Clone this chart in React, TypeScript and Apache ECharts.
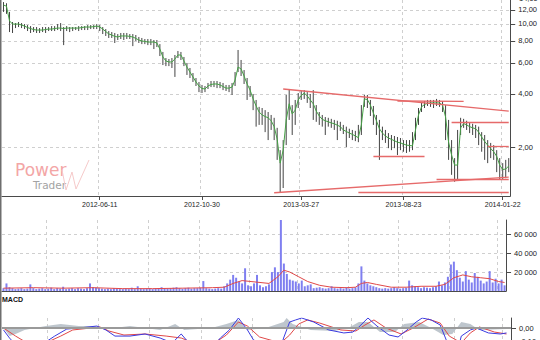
import React, { useEffect, useRef } from 'react';
import * as echarts from 'echarts';

// ---- calendar / ticks ----
const START_DATE = '2012-01-18';
const MARKET_HOLIDAYS = [
  '2012-04-06', '2012-04-09', '2012-05-01', '2012-05-03', '2012-06-07', '2012-08-15', '2012-11-01',
  '2012-12-24', '2012-12-25', '2012-12-26', '2012-12-31', '2013-01-01', '2013-03-29', '2013-04-01',
  '2013-05-01', '2013-05-03', '2013-05-30', '2013-08-15', '2013-11-01', '2013-11-11', '2013-12-24',
  '2013-12-25', '2013-12-26', '2013-12-31', '2014-01-01', '2014-01-06',
];
const DAYS_PER_BAR = 3;
const X_TICK_LABELS = ['2012-06-11', '2012-10-30', '2013-03-27', '2013-08-23', '2014-01-22'];
const PRICE_TICKS = [2, 4, 6, 8, 10, 12];
const PRICE_TOP_LABEL = '14,00';
const VOLUME_TICKS = [20000, 40000, 60000];
const MACD_TICKS = [0, -0.1];

// ---- price (green average line), bar highs / lows ----
const maLine = [
  12.8, 12.6, 10.4, 9.98, 9.98, 9.98, 9.85, 9.72, 9.53, 9.41,
  9.29, 9.23, 9.23, 9.23, 9.29, 9.35, 9.35, 9.41, 9.47, 9.47,
  9.41, 9.47, 9.47, 9.47, 9.47, 9.47, 9.53, 9.6, 9.6, 9.6,
  9.66, 9.72, 9.6, 9.35, 9.05, 8.77, 8.65, 8.49, 8.43, 8.54,
  8.54, 8.54, 8.49, 8.43, 8.27, 8.1, 8.0, 7.95, 7.89, 7.89,
  7.89, 7.79, 7.2, 6.49, 6.16, 6.08, 6.08, 6.32, 6.66, 6.66,
  6.16, 5.69, 5.33, 5.0, 4.68, 4.44, 4.3, 4.27, 4.44, 4.53,
  4.56, 4.56, 4.5, 4.41, 4.32, 4.32, 4.38, 4.8, 5.69, 5.55,
  5.06, 4.56, 4.21, 3.75, 3.42, 3.16, 3.04, 2.98, 2.93, 2.82,
  2.61, 2.22, 1.62, 1.92, 2.85, 3.52, 3.08, 3.24, 3.7, 3.92,
  4.05, 3.9, 3.7, 3.52, 3.2, 3.0, 2.87, 2.82, 2.78, 2.74,
  2.71, 2.66, 2.61, 2.5, 2.45, 2.4, 2.36, 2.31, 2.26, 2.67,
  3.75, 3.72, 3.46, 3.12, 2.82, 2.54, 2.4, 2.31, 2.25, 2.21,
  2.17, 2.13, 2.11, 2.08, 2.05, 2.04, 2.03, 2.5, 3.04, 3.38,
  3.49, 3.54, 3.56, 3.56, 3.56, 3.56, 3.46, 2.96, 2.13, 1.8,
  1.58, 1.58, 2.57, 2.72, 2.67, 2.61, 2.57, 2.54, 2.43, 2.28,
  2.15, 2.05, 1.96, 1.88, 1.77, 1.58, 1.49, 1.5, 1.56,
];
const barHigh = [
  13.3, 13.1, 11.7, 10.25, 10.11, 10.25, 10.11, 9.98, 9.85, 9.72,
  9.6, 9.6, 9.47, 9.6, 9.6, 9.6, 9.72, 9.72, 9.98, 10.11,
  9.6, 9.72, 9.6, 9.6, 9.6, 9.72, 9.72, 9.72, 9.85, 9.85,
  9.85, 9.98, 9.85, 9.6, 9.35, 9.11, 8.99, 8.88, 8.76, 8.88,
  8.88, 8.88, 8.76, 8.76, 8.65, 8.43, 8.32, 8.21, 8.21, 8.21,
  8.1, 8.1, 7.68, 6.93, 6.4, 6.32, 6.4, 6.66, 7.02, 6.93,
  6.49, 6.0, 5.62, 5.26, 4.93, 4.68, 4.5, 4.44, 4.62, 4.74,
  4.74, 4.74, 4.68, 4.62, 4.5, 4.5, 4.62, 5.33, 7.11, 6.24,
  5.47, 4.93, 4.44, 4.0, 3.7, 3.38, 3.33, 3.24, 3.16, 3.04,
  2.93, 2.57, 1.92, 2.19, 3.95, 4.27, 3.46, 3.7, 4.05, 4.16,
  4.21, 4.1, 4.0, 4.21, 3.46, 3.16, 3.04, 2.96, 2.93, 2.89,
  2.85, 2.82, 2.78, 2.67, 2.61, 2.54, 2.5, 2.47, 2.67, 3.46,
  3.95, 3.95, 3.7, 3.42, 3.04, 2.85, 2.61, 2.5, 2.4, 2.34,
  2.31, 2.28, 2.25, 2.19, 2.19, 2.19, 2.43, 2.93, 3.33, 3.56,
  3.65, 3.7, 3.7, 3.7, 3.75, 3.7, 3.65, 3.46, 2.85, 2.19,
  1.73, 2.5, 2.93, 2.89, 2.82, 2.74, 2.71, 2.67, 2.61, 2.43,
  2.34, 2.19, 2.11, 2.05, 1.92, 1.73, 1.62, 1.69, 1.73,
];
const barLow = [
  11.7, 11.4, 8.99, 8.88, 9.47, 9.6, 9.47, 9.35, 9.11, 8.88,
  8.99, 8.88, 8.88, 8.99, 8.88, 9.11, 9.11, 9.11, 9.23, 9.11,
  7.58, 9.11, 8.99, 9.11, 9.23, 9.11, 9.23, 9.23, 9.23, 9.35,
  9.35, 9.35, 9.11, 8.76, 8.54, 8.32, 8.32, 7.79, 8.1, 8.21,
  8.1, 8.21, 8.21, 7.48, 8.0, 7.79, 7.68, 7.68, 7.58, 7.58,
  7.2, 7.39, 6.57, 5.84, 5.76, 5.76, 5.62, 5.0, 6.4, 6.24,
  5.76, 5.13, 4.93, 4.68, 4.44, 4.1, 4.05, 4.1, 4.27, 4.38,
  4.38, 4.32, 4.32, 4.21, 4.16, 4.1, 3.95, 4.44, 5.33, 5.06,
  4.56, 3.7, 3.85, 3.24, 2.61, 2.67, 2.67, 2.43, 2.19, 2.5,
  2.19, 1.69, 1.11, 1.17, 2.05, 2.85, 2.34, 2.67, 3.33, 3.7,
  3.75, 3.56, 3.33, 2.85, 2.78, 2.67, 2.61, 2.34, 2.61, 2.57,
  2.5, 2.19, 2.47, 2.37, 2.0, 2.25, 2.19, 2.16, 2.13, 2.34,
  3.38, 3.33, 3.0, 2.67, 2.34, 1.69, 2.19, 2.11, 1.97, 1.92,
  1.97, 1.8, 1.92, 1.88, 1.85, 1.88, 1.92, 2.19, 2.67, 3.16,
  3.33, 3.42, 3.38, 3.33, 3.42, 3.38, 3.16, 2.19, 1.69, 1.39,
  1.27, 1.3, 2.34, 2.57, 2.5, 2.4, 2.34, 2.25, 2.05, 1.88,
  1.69, 1.62, 1.73, 1.69, 1.44, 1.3, 1.3, 1.33, 1.44,
];

// ---- volume ----
const volume = [
  3000, 8000, 4000, 3000, 2000, 2500, 3000, 2000, 2500, 7000,
  3000, 2000, 2500, 3000, 2000, 2500, 3500, 2000, 3000, 2500,
  4500, 2000, 2500, 3000, 2000, 3000, 2500, 2000, 3000, 8000,
  4000, 3500, 3000, 2500, 2000, 2500, 2000, 3000, 2500, 2000,
  2000, 2500, 2000, 3500, 2000, 5000, 2500, 2000, 2500, 3000,
  2000, 2500, 3000, 4000, 3000, 2500, 3000, 3500, 4000, 3000,
  2500, 3000, 3500, 2500, 3000, 3000, 3500, 10500, 3000, 2500,
  2000, 2500, 3000, 2500, 5000, 8000, 12000, 17000, 14000, 10000,
  8000, 24000, 6000, 5000, 8000, 17000, 6000, 4000, 5000, 7000,
  20000, 25000, 20000, 75000, 29000, 18000, 12000, 11000, 10000, 8000,
  11000, 5000, 6000, 7000, 3000, 3500, 4000, 3000, 2500, 3000,
  5000, 3000, 2500, 3000, 2500, 4000, 2500, 3000, 4000, 8000,
  26000, 11000, 8000, 6000, 5000, 4000, 3000, 2500, 3000, 2500,
  3000, 4000, 3000, 2500, 3000, 3500, 11000, 6000, 5000, 4000,
  3000, 4000, 3500, 3000, 4000, 5000, 10000, 6000, 9000, 15000,
  28000, 31000, 22000, 14000, 10000, 21000, 12000, 9000, 19000, 15000,
  11000, 8000, 10000, 21000, 9000, 13000, 8000, 12000, 6000,
];
// [bar index, value]
const volumeAvg = [
  [0, 3000], [10, 3500], [20, 3000], [30, 3500], [40, 2500], [50, 2500], [60, 3000], [70, 3500],
  [74, 4000], [77, 8000], [80, 11000], [83, 10000], [86, 9000], [89, 8000], [92, 15000], [94, 22000],
  [96, 20000], [99, 15000], [102, 10000], [106, 6000], [110, 4000], [115, 3500], [118, 4000], [120, 8000],
  [122, 9000], [125, 7000], [130, 4000], [135, 4000], [140, 5000], [145, 5000], [148, 7000], [151, 14000],
  [154, 17000], [157, 15000], [160, 14000], [163, 13000], [166, 10000], [168, 9000],
];

// ---- MACD ----
const macdLine = [
  [0, -0.015], [2, -0.077], [5, -0.154], [10, -0.169], [14, -0.108], [17, -0.062], [21, -0.008], [25, 0],
  [31, 0.015], [34, -0.015], [37, -0.062], [42, -0.062], [47, -0.046], [52, -0.077], [56, -0.115], [59, -0.046],
  [61, -0.1], [64, -0.169], [69, -0.154], [72, -0.077], [75, -0.015], [77, 0.046], [78, 0.077], [81, -0.015],
  [83, -0.092], [87, -0.131], [90, -0.131], [92, -0.154], [93, -0.077], [95, 0.046], [97, 0.062], [99, 0.077],
  [103, 0.046], [108, -0.015], [113, -0.038], [116, -0.031], [118, 0.008], [121, 0.077], [124, 0.015], [128, -0.054],
  [131, -0.069], [134, -0.015], [137, 0.046], [139, 0.077], [142, 0.062], [145, 0.023], [147, -0.092], [149, -0.169],
  [151, -0.154], [152, -0.062], [155, -0.015], [157, 0], [161, -0.038], [165, -0.046], [167, -0.038],
];
const signalLine = [
  [0, 0], [4, -0.062], [9, -0.131], [14, -0.115], [19, -0.062], [23, -0.015], [29, 0], [32, 0.008],
  [35, -0.023], [40, -0.054], [47, -0.046], [54, -0.062], [59, -0.077], [64, -0.123], [69, -0.131], [74, -0.054],
  [78, 0.046], [81, 0.015], [85, -0.069], [92, -0.115], [95, -0.054], [98, 0.031], [101, 0.062], [105, 0.038],
  [112, -0.015], [117, -0.023], [120, 0.023], [123, 0.062], [127, 0], [132, -0.046], [136, 0], [141, 0.069],
  [145, 0.038], [148, -0.062], [152, -0.115], [155, -0.038], [158, 0.008], [163, -0.031], [167, -0.046],
];
const macdHist = [
  [0, 0], [2, -0.062], [4, -0.046], [7, -0.015], [14, 0.015], [19, 0.031], [25, 0.015], [30, 0.015],
  [34, -0.008], [42, 0.015], [52, -0.015], [57, 0.031], [60, -0.015], [69, 0], [74, 0.031], [78, 0.062],
  [81, -0.015], [87, 0], [93, 0.046], [94, 0.077], [96, 0.031], [98, 0.015], [102, -0.015], [110, -0.023],
  [115, 0.008], [118, 0.046], [121, 0.046], [125, -0.031], [130, -0.031], [133, 0.031], [138, 0.046], [142, 0],
  [146, -0.054], [149, -0.046], [152, 0.046], [155, 0.031], [158, -0.015], [167, -0.008],
];

// ---- drawn trend lines: [from bar, from price, to bar, to price] ----
const trendLines = [
  [93, 4.27, 168, 3.2],
  [90, 1.1, 168, 1.35],
  [131, 3.65, 153, 3.63],
  [149, 2.78, 168, 2.78],
  [161, 2.03, 168, 2.03],
  [123, 1.78, 140, 1.78],
  [144, 1.32, 168, 1.32],
  [118, 1.1, 168, 1.1],
];

const FONT = '"Liberation Sans", Arial, sans-serif';
const LOGO_FONT = '"DejaVu Sans", sans-serif';

function buildCategories(n: number): string[] {
  const hol = new Set(MARKET_HOLIDAYS);
  const out: string[] = [];
  const d = new Date(START_DATE + 'T00:00:00Z');
  let count = 0;
  while (out.length < n) {
    const wd = d.getUTCDay();
    const s = d.toISOString().slice(0, 10);
    if (wd !== 0 && wd !== 6 && !hol.has(s)) {
      if (count % DAYS_PER_BAR === 0) out.push(s);
      count++;
    }
    d.setUTCDate(d.getUTCDate() + 1);
  }
  return out;
}

const fmtComma = (v: number) => v.toFixed(2).replace('.', ',');
const fmtThousands = (v: number) => String(Math.round(v)).replace(/\B(?=(\d{3})+(?!\d))/g, ' ');

export default function App() {
  const ref = useRef<HTMLDivElement>(null);
  useEffect(() => {
    if (!ref.current) return;
    const chart = echarts.init(ref.current, null, { renderer: 'svg' });
    const categories = buildCategories(maLine.length);
    const labelText: Record<number, string> = {};
    const labelIdx: number[] = X_TICK_LABELS.map((lab) => {
      let idx = 0;
      categories.forEach((c, i) => { if (c <= lab) idx = i; });
      labelText[idx] = lab;
      return idx;
    });
    const labelSet = new Set(labelIdx);
    const gridSet = new Set<number>(labelIdx);
    for (let i = 0; i < labelIdx.length - 1; i++) gridSet.add(Math.round((labelIdx[i] + labelIdx[i + 1]) / 2));
    gridSet.add(labelIdx[0] - Math.round((labelIdx[1] - labelIdx[0]) / 2));

    const axisColor = '#4a4a4a';
    const gridLine = { show: true, lineStyle: { color: '#cfcfcf', type: [3, 3] as any, width: 1 } };
    const labelStyle = { fontFamily: FONT, color: '#222', fontSize: 7.5 };

    const xBase = (gi: number) => ({
      type: 'category' as const,
      gridIndex: gi,
      data: categories,
      boundaryGap: true,
      axisLine: { show: gi !== 2, onZero: false, lineStyle: { color: axisColor, width: 1 } },
      axisTick: { show: false },
      axisLabel: { show: false },
      splitLine: { ...gridLine, interval: (i: number) => gridSet.has(i) },
    });

    const option: any = {
      animation: false,
      textStyle: { fontFamily: FONT },
      grid: [
        { left: 2, right: 29, top: 0, height: 196 },
        { left: 2, right: 29, top: 220, height: 71 },
        { left: 2, right: 29, top: 318, height: 62 },
      ],
      xAxis: [
        {
          ...xBase(0),
          axisTick: {
            show: true, alignWithLabel: true, length: 4,
            interval: (i: number) => labelSet.has(i), lineStyle: { color: axisColor },
          },
          axisLabel: {
            show: true, interval: (i: number) => labelSet.has(i),
            formatter: (_v: string, i: number) => labelText[i] || '',
            fontSize: 7, margin: 5, color: '#222', fontFamily: FONT,
          },
          splitLine: { ...gridLine, interval: (i: number) => labelSet.has(i) },
        },
        xBase(1),
        xBase(2),
      ],
      yAxis: [
        {
          type: 'log', logBase: 10, gridIndex: 0, position: 'right', min: 1.054, max: 13.67,
          axisLine: { show: true, lineStyle: { color: axisColor } },
          axisTick: { show: true, length: 5, customValues: PRICE_TICKS, lineStyle: { color: axisColor } },
          axisLabel: { ...labelStyle, margin: 8, customValues: PRICE_TICKS, formatter: (v: number) => fmtComma(v) },
          splitLine: gridLine,
        },
        {
          type: 'value', gridIndex: 1, position: 'right', min: 0, max: 75000,
          axisLine: { show: true, lineStyle: { color: axisColor } },
          axisTick: { show: true, length: 5, customValues: VOLUME_TICKS, lineStyle: { color: axisColor } },
          axisLabel: { ...labelStyle, margin: 8, customValues: VOLUME_TICKS, formatter: (v: number) => fmtThousands(v) },
          splitLine: gridLine,
        },
        {
          type: 'value', gridIndex: 2, position: 'right', min: -0.4, max: 0.077,
          axisLine: { show: true, lineStyle: { color: axisColor } },
          axisTick: { show: true, length: 5, customValues: MACD_TICKS, lineStyle: { color: axisColor } },
          axisLabel: { ...labelStyle, margin: 8, customValues: MACD_TICKS, formatter: (v: number) => fmtComma(v) },
          splitLine: { show: false },
        },
      ],
      series: [
        {
          type: 'custom', xAxisIndex: 0, yAxisIndex: 0, silent: true, clip: true,
          data: barLow.map((lo, i) => [i, lo, barHigh[i]]),
          encode: { x: 0, y: [1, 2] },
          renderItem: (_p: any, api: any) => {
            const i = api.value(0);
            const a = api.coord([i, api.value(1)]);
            const b = api.coord([i, api.value(2)]);
            return {
              type: 'line',
              shape: { x1: a[0], y1: a[1], x2: b[0], y2: b[1] },
              style: { stroke: '#444', lineWidth: 1 },
            };
          },
        },
        {
          type: 'line', xAxisIndex: 0, yAxisIndex: 0, data: maLine, symbol: 'none', silent: true,
          lineStyle: { color: '#45a245', width: 1 },
          markLine: {
            silent: true, symbol: ['none', 'none'], label: { show: false },
            lineStyle: { color: '#e66a6a', width: 1.3, type: 'solid' },
            emphasis: { disabled: true },
            data: trendLines.map(([k1, p1, k2, p2]) => [{ coord: [k1, p1] }, { coord: [k2, p2] }]),
          },
        },
        {
          type: 'bar', xAxisIndex: 1, yAxisIndex: 1, data: volume, barWidth: 2, silent: true,
          itemStyle: { color: '#7f7ff0' },
        },
        {
          type: 'line', xAxisIndex: 1, yAxisIndex: 1, data: volumeAvg, symbol: 'none', silent: true,
          lineStyle: { color: '#e04848', width: 1 },
        },
        {
          type: 'line', xAxisIndex: 2, yAxisIndex: 2, data: macdHist, symbol: 'none', silent: true,
          lineStyle: { width: 0, color: '#b3bcc4' },
          areaStyle: { color: '#b3bcc4', opacity: 0.85, origin: 0 },
          markLine: {
            silent: true, symbol: ['none', 'none'], label: { show: false },
            lineStyle: { color: '#9a9a9a', width: 2, type: 'solid' },
            data: [{ yAxis: 0 }],
          },
        },
        {
          type: 'line', xAxisIndex: 2, yAxisIndex: 2, data: signalLine, symbol: 'none', silent: true,
          lineStyle: { color: '#e04848', width: 1 },
        },
        {
          type: 'line', xAxisIndex: 2, yAxisIndex: 2, data: macdLine, symbol: 'none', silent: true,
          lineStyle: { color: '#3a3ae0', width: 1 },
        },
      ],
      graphic: [
        { type: 'rect', left: 0, top: 0, shape: { x: 0, y: 0, width: 1.5, height: 380 }, style: { fill: '#6e6e6e' }, silent: true },
        {
          type: 'text', x: 519, y: -2, silent: true,
          style: { text: PRICE_TOP_LABEL, fill: '#222', font: `7.5px ${FONT}`, verticalAlign: 'middle' },
        },
        {
          type: 'text', x: 15, y: 161, silent: true,
          style: { text: 'Power', fill: '#f3a6a6', font: `17px ${LOGO_FONT}` },
        },
        {
          type: 'text', x: 33, y: 179, silent: true,
          style: { text: 'Trader', fill: '#a3a3a3', font: `10.5px ${LOGO_FONT}` },
        },
        {
          type: 'polyline', silent: true,
          shape: { points: [[62, 170], [66, 190], [72, 172], [76, 189], [89, 160]] },
          style: { stroke: '#f6caca', lineWidth: 1, fill: null },
        },
        {
          type: 'text', x: 2, y: 296, silent: true,
          style: { text: 'MACD', fill: '#111', font: `bold 7px ${FONT}` },
        },
      ],
    };
    chart.setOption(option);
    return () => chart.dispose();
  }, []);
  return (
    <div
      ref={ref}
      style={{ position: 'fixed', left: 0, top: 0, width: 540, height: 380, background: '#fff' }}
    />
  );
}
